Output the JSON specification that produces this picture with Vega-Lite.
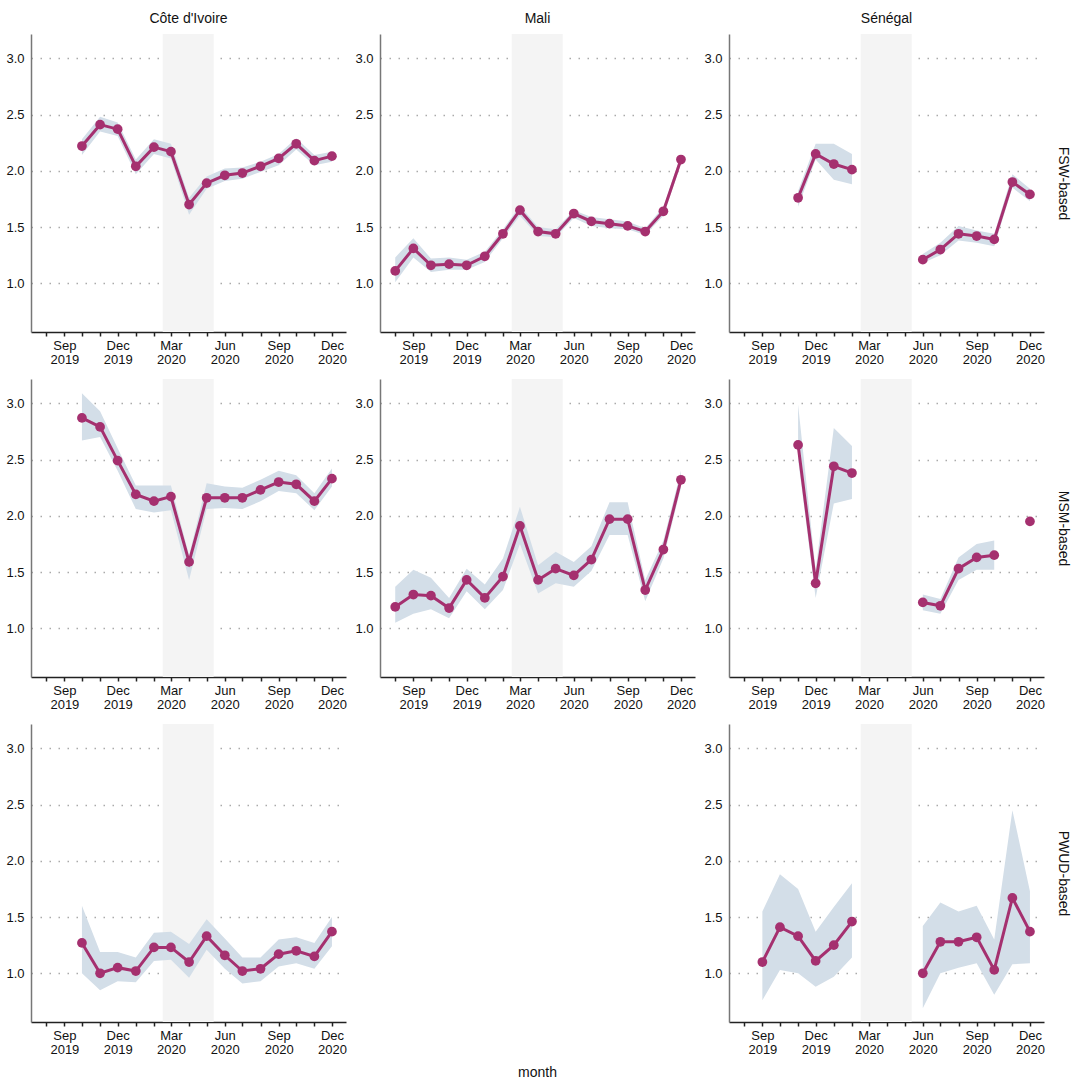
{
  "$schema": "https://vega.github.io/schema/vega-lite/v6.json",
  "padding": {"left": 5, "right": 4, "top": 12, "bottom": 5},
  "datasets": {
    "shade": [{"start": "2020-02-16", "end": "2020-05-13"}],
    "rates": [
      {"country": "Côte d'Ivoire", "group": "FSW-based", "month": "2019-10-01", "est": 2.22, "lo": 2.14, "hi": 2.28},
      {"country": "Côte d'Ivoire", "group": "FSW-based", "month": "2019-11-01", "est": 2.41, "lo": 2.35, "hi": 2.48},
      {"country": "Côte d'Ivoire", "group": "FSW-based", "month": "2019-12-01", "est": 2.37, "lo": 2.31, "hi": 2.43},
      {"country": "Côte d'Ivoire", "group": "FSW-based", "month": "2020-01-01", "est": 2.04, "lo": 1.97, "hi": 2.10},
      {"country": "Côte d'Ivoire", "group": "FSW-based", "month": "2020-02-01", "est": 2.21, "lo": 2.15, "hi": 2.28},
      {"country": "Côte d'Ivoire", "group": "FSW-based", "month": "2020-03-01", "est": 2.17, "lo": 2.11, "hi": 2.24},
      {"country": "Côte d'Ivoire", "group": "FSW-based", "month": "2020-04-01", "est": 1.70, "lo": 1.61, "hi": 1.76},
      {"country": "Côte d'Ivoire", "group": "FSW-based", "month": "2020-05-01", "est": 1.89, "lo": 1.84, "hi": 1.95},
      {"country": "Côte d'Ivoire", "group": "FSW-based", "month": "2020-06-01", "est": 1.96, "lo": 1.91, "hi": 2.02},
      {"country": "Côte d'Ivoire", "group": "FSW-based", "month": "2020-07-01", "est": 1.98, "lo": 1.93, "hi": 2.03},
      {"country": "Côte d'Ivoire", "group": "FSW-based", "month": "2020-08-01", "est": 2.04, "lo": 1.99, "hi": 2.08},
      {"country": "Côte d'Ivoire", "group": "FSW-based", "month": "2020-09-01", "est": 2.11, "lo": 2.05, "hi": 2.15},
      {"country": "Côte d'Ivoire", "group": "FSW-based", "month": "2020-10-01", "est": 2.24, "lo": 2.19, "hi": 2.29},
      {"country": "Côte d'Ivoire", "group": "FSW-based", "month": "2020-11-01", "est": 2.09, "lo": 2.05, "hi": 2.14},
      {"country": "Côte d'Ivoire", "group": "FSW-based", "month": "2020-12-01", "est": 2.13, "lo": 2.08, "hi": 2.17},

      {"country": "Mali", "group": "FSW-based", "month": "2019-08-01", "est": 1.11, "lo": 1.01, "hi": 1.23},
      {"country": "Mali", "group": "FSW-based", "month": "2019-09-01", "est": 1.31, "lo": 1.23, "hi": 1.40},
      {"country": "Mali", "group": "FSW-based", "month": "2019-10-01", "est": 1.16, "lo": 1.10, "hi": 1.22},
      {"country": "Mali", "group": "FSW-based", "month": "2019-11-01", "est": 1.17, "lo": 1.12, "hi": 1.23},
      {"country": "Mali", "group": "FSW-based", "month": "2019-12-01", "est": 1.16, "lo": 1.12, "hi": 1.21},
      {"country": "Mali", "group": "FSW-based", "month": "2020-01-01", "est": 1.24, "lo": 1.19, "hi": 1.28},
      {"country": "Mali", "group": "FSW-based", "month": "2020-02-01", "est": 1.44, "lo": 1.40, "hi": 1.48},
      {"country": "Mali", "group": "FSW-based", "month": "2020-03-01", "est": 1.65, "lo": 1.60, "hi": 1.69},
      {"country": "Mali", "group": "FSW-based", "month": "2020-04-01", "est": 1.46, "lo": 1.42, "hi": 1.50},
      {"country": "Mali", "group": "FSW-based", "month": "2020-05-01", "est": 1.44, "lo": 1.41, "hi": 1.48},
      {"country": "Mali", "group": "FSW-based", "month": "2020-06-01", "est": 1.62, "lo": 1.58, "hi": 1.65},
      {"country": "Mali", "group": "FSW-based", "month": "2020-07-01", "est": 1.55, "lo": 1.51, "hi": 1.59},
      {"country": "Mali", "group": "FSW-based", "month": "2020-08-01", "est": 1.53, "lo": 1.49, "hi": 1.57},
      {"country": "Mali", "group": "FSW-based", "month": "2020-09-01", "est": 1.51, "lo": 1.48, "hi": 1.55},
      {"country": "Mali", "group": "FSW-based", "month": "2020-10-01", "est": 1.46, "lo": 1.43, "hi": 1.49},
      {"country": "Mali", "group": "FSW-based", "month": "2020-11-01", "est": 1.64, "lo": 1.60, "hi": 1.68},
      {"country": "Mali", "group": "FSW-based", "month": "2020-12-01", "est": 2.10, "lo": 2.06, "hi": 2.14},

      {"country": "Sénégal", "group": "FSW-based", "month": "2019-11-01", "est": 1.76, "lo": 1.68, "hi": 1.82},
      {"country": "Sénégal", "group": "FSW-based", "month": "2019-12-01", "est": 2.15, "lo": 2.10, "hi": 2.24},
      {"country": "Sénégal", "group": "FSW-based", "month": "2020-01-01", "est": 2.06, "lo": 1.92, "hi": 2.24},
      {"country": "Sénégal", "group": "FSW-based", "month": "2020-02-01", "est": 2.01, "lo": 1.88, "hi": 2.15},
      {"country": "Sénégal", "group": "FSW-based", "month": "2020-03-01", "est": null, "lo": null, "hi": null},
      {"country": "Sénégal", "group": "FSW-based", "month": "2020-06-01", "est": 1.21, "lo": 1.18, "hi": 1.26},
      {"country": "Sénégal", "group": "FSW-based", "month": "2020-07-01", "est": 1.30, "lo": 1.25, "hi": 1.36},
      {"country": "Sénégal", "group": "FSW-based", "month": "2020-08-01", "est": 1.44, "lo": 1.38, "hi": 1.51},
      {"country": "Sénégal", "group": "FSW-based", "month": "2020-09-01", "est": 1.42, "lo": 1.36, "hi": 1.47},
      {"country": "Sénégal", "group": "FSW-based", "month": "2020-10-01", "est": 1.39, "lo": 1.33, "hi": 1.44},
      {"country": "Sénégal", "group": "FSW-based", "month": "2020-11-01", "est": 1.90, "lo": 1.85, "hi": 1.97},
      {"country": "Sénégal", "group": "FSW-based", "month": "2020-12-01", "est": 1.79, "lo": 1.73, "hi": 1.84},

      {"country": "Côte d'Ivoire", "group": "MSM-based", "month": "2019-10-01", "est": 2.87, "lo": 2.67, "hi": 3.09},
      {"country": "Côte d'Ivoire", "group": "MSM-based", "month": "2019-11-01", "est": 2.79, "lo": 2.70, "hi": 2.93},
      {"country": "Côte d'Ivoire", "group": "MSM-based", "month": "2019-12-01", "est": 2.49, "lo": 2.40, "hi": 2.60},
      {"country": "Côte d'Ivoire", "group": "MSM-based", "month": "2020-01-01", "est": 2.19, "lo": 2.06, "hi": 2.27},
      {"country": "Côte d'Ivoire", "group": "MSM-based", "month": "2020-02-01", "est": 2.13, "lo": 2.03, "hi": 2.27},
      {"country": "Côte d'Ivoire", "group": "MSM-based", "month": "2020-03-01", "est": 2.17, "lo": 2.05, "hi": 2.27},
      {"country": "Côte d'Ivoire", "group": "MSM-based", "month": "2020-04-01", "est": 1.59, "lo": 1.43, "hi": 1.65},
      {"country": "Côte d'Ivoire", "group": "MSM-based", "month": "2020-05-01", "est": 2.16, "lo": 2.06, "hi": 2.29},
      {"country": "Côte d'Ivoire", "group": "MSM-based", "month": "2020-06-01", "est": 2.16, "lo": 2.07, "hi": 2.26},
      {"country": "Côte d'Ivoire", "group": "MSM-based", "month": "2020-07-01", "est": 2.16, "lo": 2.06, "hi": 2.25},
      {"country": "Côte d'Ivoire", "group": "MSM-based", "month": "2020-08-01", "est": 2.23, "lo": 2.13, "hi": 2.32},
      {"country": "Côte d'Ivoire", "group": "MSM-based", "month": "2020-09-01", "est": 2.30, "lo": 2.22, "hi": 2.40},
      {"country": "Côte d'Ivoire", "group": "MSM-based", "month": "2020-10-01", "est": 2.28, "lo": 2.20, "hi": 2.36},
      {"country": "Côte d'Ivoire", "group": "MSM-based", "month": "2020-11-01", "est": 2.13, "lo": 2.05, "hi": 2.20},
      {"country": "Côte d'Ivoire", "group": "MSM-based", "month": "2020-12-01", "est": 2.33, "lo": 2.26, "hi": 2.42},

      {"country": "Mali", "group": "MSM-based", "month": "2019-08-01", "est": 1.19, "lo": 1.05, "hi": 1.37},
      {"country": "Mali", "group": "MSM-based", "month": "2019-09-01", "est": 1.30, "lo": 1.13, "hi": 1.52},
      {"country": "Mali", "group": "MSM-based", "month": "2019-10-01", "est": 1.29, "lo": 1.17, "hi": 1.45},
      {"country": "Mali", "group": "MSM-based", "month": "2019-11-01", "est": 1.18, "lo": 1.09, "hi": 1.27},
      {"country": "Mali", "group": "MSM-based", "month": "2019-12-01", "est": 1.43, "lo": 1.33, "hi": 1.53},
      {"country": "Mali", "group": "MSM-based", "month": "2020-01-01", "est": 1.27, "lo": 1.17, "hi": 1.39},
      {"country": "Mali", "group": "MSM-based", "month": "2020-02-01", "est": 1.46, "lo": 1.34, "hi": 1.62},
      {"country": "Mali", "group": "MSM-based", "month": "2020-03-01", "est": 1.91, "lo": 1.75, "hi": 2.08},
      {"country": "Mali", "group": "MSM-based", "month": "2020-04-01", "est": 1.43, "lo": 1.31, "hi": 1.56},
      {"country": "Mali", "group": "MSM-based", "month": "2020-05-01", "est": 1.53, "lo": 1.40, "hi": 1.68},
      {"country": "Mali", "group": "MSM-based", "month": "2020-06-01", "est": 1.47, "lo": 1.37, "hi": 1.59},
      {"country": "Mali", "group": "MSM-based", "month": "2020-07-01", "est": 1.61, "lo": 1.51, "hi": 1.73},
      {"country": "Mali", "group": "MSM-based", "month": "2020-08-01", "est": 1.97, "lo": 1.83, "hi": 2.12},
      {"country": "Mali", "group": "MSM-based", "month": "2020-09-01", "est": 1.97, "lo": 1.83, "hi": 2.12},
      {"country": "Mali", "group": "MSM-based", "month": "2020-10-01", "est": 1.34, "lo": 1.24, "hi": 1.43},
      {"country": "Mali", "group": "MSM-based", "month": "2020-11-01", "est": 1.70, "lo": 1.62, "hi": 1.78},
      {"country": "Mali", "group": "MSM-based", "month": "2020-12-01", "est": 2.32, "lo": 2.25, "hi": 2.40},

      {"country": "Sénégal", "group": "MSM-based", "month": "2019-11-01", "est": 2.63, "lo": 2.50, "hi": 2.99},
      {"country": "Sénégal", "group": "MSM-based", "month": "2019-12-01", "est": 1.40, "lo": 1.27, "hi": 1.52},
      {"country": "Sénégal", "group": "MSM-based", "month": "2020-01-01", "est": 2.44, "lo": 2.11, "hi": 2.78},
      {"country": "Sénégal", "group": "MSM-based", "month": "2020-02-01", "est": 2.38, "lo": 2.15, "hi": 2.62},
      {"country": "Sénégal", "group": "MSM-based", "month": "2020-03-01", "est": null, "lo": null, "hi": null},
      {"country": "Sénégal", "group": "MSM-based", "month": "2020-06-01", "est": 1.23, "lo": 1.16, "hi": 1.30},
      {"country": "Sénégal", "group": "MSM-based", "month": "2020-07-01", "est": 1.20, "lo": 1.13, "hi": 1.26},
      {"country": "Sénégal", "group": "MSM-based", "month": "2020-08-01", "est": 1.53, "lo": 1.43, "hi": 1.63},
      {"country": "Sénégal", "group": "MSM-based", "month": "2020-09-01", "est": 1.63, "lo": 1.52, "hi": 1.75},
      {"country": "Sénégal", "group": "MSM-based", "month": "2020-10-01", "est": 1.65, "lo": 1.52, "hi": 1.78},
      {"country": "Sénégal", "group": "MSM-based", "month": "2020-11-01", "est": null, "lo": null, "hi": null},
      {"country": "Sénégal", "group": "MSM-based", "month": "2020-12-01", "est": 1.95, "lo": null, "hi": null},

      {"country": "Côte d'Ivoire", "group": "PWUD-based", "month": "2019-10-01", "est": 1.27, "lo": 1.00, "hi": 1.60},
      {"country": "Côte d'Ivoire", "group": "PWUD-based", "month": "2019-11-01", "est": 1.00, "lo": 0.85, "hi": 1.19},
      {"country": "Côte d'Ivoire", "group": "PWUD-based", "month": "2019-12-01", "est": 1.05, "lo": 0.93, "hi": 1.19},
      {"country": "Côte d'Ivoire", "group": "PWUD-based", "month": "2020-01-01", "est": 1.02, "lo": 0.92, "hi": 1.14},
      {"country": "Côte d'Ivoire", "group": "PWUD-based", "month": "2020-02-01", "est": 1.23, "lo": 1.11, "hi": 1.36},
      {"country": "Côte d'Ivoire", "group": "PWUD-based", "month": "2020-03-01", "est": 1.23, "lo": 1.12, "hi": 1.37},
      {"country": "Côte d'Ivoire", "group": "PWUD-based", "month": "2020-04-01", "est": 1.10, "lo": 0.96, "hi": 1.26},
      {"country": "Côte d'Ivoire", "group": "PWUD-based", "month": "2020-05-01", "est": 1.33, "lo": 1.21, "hi": 1.48},
      {"country": "Côte d'Ivoire", "group": "PWUD-based", "month": "2020-06-01", "est": 1.16, "lo": 1.04, "hi": 1.31},
      {"country": "Côte d'Ivoire", "group": "PWUD-based", "month": "2020-07-01", "est": 1.02, "lo": 0.91, "hi": 1.14},
      {"country": "Côte d'Ivoire", "group": "PWUD-based", "month": "2020-08-01", "est": 1.04, "lo": 0.93, "hi": 1.14},
      {"country": "Côte d'Ivoire", "group": "PWUD-based", "month": "2020-09-01", "est": 1.17, "lo": 1.06, "hi": 1.30},
      {"country": "Côte d'Ivoire", "group": "PWUD-based", "month": "2020-10-01", "est": 1.20, "lo": 1.09, "hi": 1.32},
      {"country": "Côte d'Ivoire", "group": "PWUD-based", "month": "2020-11-01", "est": 1.15, "lo": 1.04, "hi": 1.27},
      {"country": "Côte d'Ivoire", "group": "PWUD-based", "month": "2020-12-01", "est": 1.37, "lo": 1.24, "hi": 1.50},

      {"country": "Sénégal", "group": "PWUD-based", "month": "2019-09-01", "est": 1.10, "lo": 0.76, "hi": 1.55},
      {"country": "Sénégal", "group": "PWUD-based", "month": "2019-10-01", "est": 1.41, "lo": 1.03, "hi": 1.88},
      {"country": "Sénégal", "group": "PWUD-based", "month": "2019-11-01", "est": 1.33, "lo": 1.00, "hi": 1.75},
      {"country": "Sénégal", "group": "PWUD-based", "month": "2019-12-01", "est": 1.11, "lo": 0.88, "hi": 1.37},
      {"country": "Sénégal", "group": "PWUD-based", "month": "2020-01-01", "est": 1.25, "lo": 0.97, "hi": 1.59},
      {"country": "Sénégal", "group": "PWUD-based", "month": "2020-02-01", "est": 1.46, "lo": 1.14, "hi": 1.80},
      {"country": "Sénégal", "group": "PWUD-based", "month": "2020-03-01", "est": null, "lo": null, "hi": null},
      {"country": "Sénégal", "group": "PWUD-based", "month": "2020-06-01", "est": 1.00, "lo": 0.69, "hi": 1.42},
      {"country": "Sénégal", "group": "PWUD-based", "month": "2020-07-01", "est": 1.28, "lo": 1.00, "hi": 1.63},
      {"country": "Sénégal", "group": "PWUD-based", "month": "2020-08-01", "est": 1.28, "lo": 1.05, "hi": 1.55},
      {"country": "Sénégal", "group": "PWUD-based", "month": "2020-09-01", "est": 1.32, "lo": 1.09, "hi": 1.60},
      {"country": "Sénégal", "group": "PWUD-based", "month": "2020-10-01", "est": 1.03, "lo": 0.81, "hi": 1.30},
      {"country": "Sénégal", "group": "PWUD-based", "month": "2020-11-01", "est": 1.67, "lo": 1.08, "hi": 2.45},
      {"country": "Sénégal", "group": "PWUD-based", "month": "2020-12-01", "est": 1.37, "lo": 1.09, "hi": 1.73}
    ]
  },
  "data": {"name": "rates"},
  "columns": 3,
  "spacing": {"row": 13, "column": 7},
  "title": {"text": "month", "orient": "bottom", "anchor": "middle", "fontSize": 14, "fontWeight": "normal", "offset": 10},
  "concat": [
    {
      "width": 315, "height": 298,
      "title": "Côte d'Ivoire",
      "transform": [{"filter": {"and": [{"field": "country", "equal": "Côte d'Ivoire"}, {"field": "group", "equal": "FSW-based"}]}}],
      "layer": [
        {"data": {"name": "shade"}, "mark": {"type": "rect", "color": "#f4f4f4"},
         "encoding": {"x": {"field": "start", "type": "temporal", "title": null, "scale": {"type": "utc", "nice": false, "domain": [{"year": 2019, "month": 7, "date": 6, "utc": true}, {"year": 2020, "month": 12, "date": 25, "utc": true}]}, "axis": {"tickCount": {"interval": "month", "step": 1}, "labelOverlap": false, "labelFlush": false, "labelExpr": "utcmonth(datum.value) % 3 == 2 ? [utcFormat(datum.value, '%b'), utcFormat(datum.value, '%Y')] : ''"}}, "x2": {"field": "end"}}},
        {"mark": {"type": "area", "color": "#d3dee8", "invalid": "break-paths-show-domains"},
         "encoding": {"x": {"field": "month", "type": "temporal", "title": null}, "y": {"field": "lo", "type": "quantitative", "title": null, "scale": {"domain": [0.567, 3.216], "nice": false, "zero": false}, "axis": {"values": [1, 1.5, 2, 2.5, 3], "format": ".1f"}}, "y2": {"field": "hi"}}},
        {"mark": {"type": "line", "color": "#a5306f", "strokeWidth": 3, "invalid": "break-paths-show-domains"},
         "encoding": {"x": {"field": "month", "type": "temporal", "title": null}, "y": {"field": "est", "type": "quantitative", "title": null}}},
        {"mark": {"type": "point", "filled": true, "opacity": 1, "color": "#a5306f", "size": 95},
         "encoding": {"x": {"field": "month", "type": "temporal", "title": null}, "y": {"field": "est", "type": "quantitative", "title": null}}}
      ]
    },
    {
      "width": 315, "height": 298,
      "title": "Mali",
      "transform": [{"filter": {"and": [{"field": "country", "equal": "Mali"}, {"field": "group", "equal": "FSW-based"}]}}],
      "layer": [
        {"data": {"name": "shade"}, "mark": {"type": "rect", "color": "#f4f4f4"},
         "encoding": {"x": {"field": "start", "type": "temporal", "title": null, "scale": {"type": "utc", "nice": false, "domain": [{"year": 2019, "month": 7, "date": 6, "utc": true}, {"year": 2020, "month": 12, "date": 25, "utc": true}]}, "axis": {"tickCount": {"interval": "month", "step": 1}, "labelOverlap": false, "labelFlush": false, "labelExpr": "utcmonth(datum.value) % 3 == 2 ? [utcFormat(datum.value, '%b'), utcFormat(datum.value, '%Y')] : ''"}}, "x2": {"field": "end"}}},
        {"mark": {"type": "area", "color": "#d3dee8", "invalid": "break-paths-show-domains"},
         "encoding": {"x": {"field": "month", "type": "temporal", "title": null}, "y": {"field": "lo", "type": "quantitative", "title": null, "scale": {"domain": [0.567, 3.216], "nice": false, "zero": false}, "axis": {"values": [1, 1.5, 2, 2.5, 3], "format": ".1f"}}, "y2": {"field": "hi"}}},
        {"mark": {"type": "line", "color": "#a5306f", "strokeWidth": 3, "invalid": "break-paths-show-domains"},
         "encoding": {"x": {"field": "month", "type": "temporal", "title": null}, "y": {"field": "est", "type": "quantitative", "title": null}}},
        {"mark": {"type": "point", "filled": true, "opacity": 1, "color": "#a5306f", "size": 95},
         "encoding": {"x": {"field": "month", "type": "temporal", "title": null}, "y": {"field": "est", "type": "quantitative", "title": null}}}
      ]
    },
    {
      "width": 315, "height": 298,
      "title": "Sénégal",
      "transform": [{"filter": {"and": [{"field": "country", "equal": "Sénégal"}, {"field": "group", "equal": "FSW-based"}]}}],
      "resolve": {"axis": {"y": "independent"}},
      "layer": [
        {"data": {"name": "shade"}, "mark": {"type": "rect", "color": "#f4f4f4"},
         "encoding": {"x": {"field": "start", "type": "temporal", "title": null, "scale": {"type": "utc", "nice": false, "domain": [{"year": 2019, "month": 7, "date": 6, "utc": true}, {"year": 2020, "month": 12, "date": 25, "utc": true}]}, "axis": {"tickCount": {"interval": "month", "step": 1}, "labelOverlap": false, "labelFlush": false, "labelExpr": "utcmonth(datum.value) % 3 == 2 ? [utcFormat(datum.value, '%b'), utcFormat(datum.value, '%Y')] : ''"}}, "x2": {"field": "end"}}},
        {"mark": {"type": "area", "color": "#d3dee8", "invalid": "break-paths-show-domains"},
         "encoding": {"x": {"field": "month", "type": "temporal", "title": null}, "y": {"field": "lo", "type": "quantitative", "title": null, "scale": {"domain": [0.567, 3.216], "nice": false, "zero": false}, "axis": {"values": [1, 1.5, 2, 2.5, 3], "format": ".1f"}}, "y2": {"field": "hi"}}},
        {"mark": {"type": "line", "color": "#a5306f", "strokeWidth": 3, "invalid": "break-paths-show-domains"},
         "encoding": {"x": {"field": "month", "type": "temporal", "title": null}, "y": {"field": "est", "type": "quantitative", "title": null, "axis": null}}},
        {"mark": {"type": "point", "filled": true, "opacity": 1, "color": "#a5306f", "size": 95},
         "encoding": {"x": {"field": "month", "type": "temporal", "title": null}, "y": {"field": "est", "type": "quantitative", "title": "FSW-based", "axis": {"orient": "right", "labels": false, "ticks": false, "domain": false, "grid": false, "titleAngle": 90, "titlePadding": 11}}}}
      ]
    },
    {
      "width": 315, "height": 298,
      "transform": [{"filter": {"and": [{"field": "country", "equal": "Côte d'Ivoire"}, {"field": "group", "equal": "MSM-based"}]}}],
      "layer": [
        {"data": {"name": "shade"}, "mark": {"type": "rect", "color": "#f4f4f4"},
         "encoding": {"x": {"field": "start", "type": "temporal", "title": null, "scale": {"type": "utc", "nice": false, "domain": [{"year": 2019, "month": 7, "date": 6, "utc": true}, {"year": 2020, "month": 12, "date": 25, "utc": true}]}, "axis": {"tickCount": {"interval": "month", "step": 1}, "labelOverlap": false, "labelFlush": false, "labelExpr": "utcmonth(datum.value) % 3 == 2 ? [utcFormat(datum.value, '%b'), utcFormat(datum.value, '%Y')] : ''"}}, "x2": {"field": "end"}}},
        {"mark": {"type": "area", "color": "#d3dee8", "invalid": "break-paths-show-domains"},
         "encoding": {"x": {"field": "month", "type": "temporal", "title": null}, "y": {"field": "lo", "type": "quantitative", "title": null, "scale": {"domain": [0.567, 3.216], "nice": false, "zero": false}, "axis": {"values": [1, 1.5, 2, 2.5, 3], "format": ".1f"}}, "y2": {"field": "hi"}}},
        {"mark": {"type": "line", "color": "#a5306f", "strokeWidth": 3, "invalid": "break-paths-show-domains"},
         "encoding": {"x": {"field": "month", "type": "temporal", "title": null}, "y": {"field": "est", "type": "quantitative", "title": null}}},
        {"mark": {"type": "point", "filled": true, "opacity": 1, "color": "#a5306f", "size": 95},
         "encoding": {"x": {"field": "month", "type": "temporal", "title": null}, "y": {"field": "est", "type": "quantitative", "title": null}}}
      ]
    },
    {
      "width": 315, "height": 298,
      "transform": [{"filter": {"and": [{"field": "country", "equal": "Mali"}, {"field": "group", "equal": "MSM-based"}]}}],
      "layer": [
        {"data": {"name": "shade"}, "mark": {"type": "rect", "color": "#f4f4f4"},
         "encoding": {"x": {"field": "start", "type": "temporal", "title": null, "scale": {"type": "utc", "nice": false, "domain": [{"year": 2019, "month": 7, "date": 6, "utc": true}, {"year": 2020, "month": 12, "date": 25, "utc": true}]}, "axis": {"tickCount": {"interval": "month", "step": 1}, "labelOverlap": false, "labelFlush": false, "labelExpr": "utcmonth(datum.value) % 3 == 2 ? [utcFormat(datum.value, '%b'), utcFormat(datum.value, '%Y')] : ''"}}, "x2": {"field": "end"}}},
        {"mark": {"type": "area", "color": "#d3dee8", "invalid": "break-paths-show-domains"},
         "encoding": {"x": {"field": "month", "type": "temporal", "title": null}, "y": {"field": "lo", "type": "quantitative", "title": null, "scale": {"domain": [0.567, 3.216], "nice": false, "zero": false}, "axis": {"values": [1, 1.5, 2, 2.5, 3], "format": ".1f"}}, "y2": {"field": "hi"}}},
        {"mark": {"type": "line", "color": "#a5306f", "strokeWidth": 3, "invalid": "break-paths-show-domains"},
         "encoding": {"x": {"field": "month", "type": "temporal", "title": null}, "y": {"field": "est", "type": "quantitative", "title": null}}},
        {"mark": {"type": "point", "filled": true, "opacity": 1, "color": "#a5306f", "size": 95},
         "encoding": {"x": {"field": "month", "type": "temporal", "title": null}, "y": {"field": "est", "type": "quantitative", "title": null}}}
      ]
    },
    {
      "width": 315, "height": 298,
      "transform": [{"filter": {"and": [{"field": "country", "equal": "Sénégal"}, {"field": "group", "equal": "MSM-based"}]}}],
      "resolve": {"axis": {"y": "independent"}},
      "layer": [
        {"data": {"name": "shade"}, "mark": {"type": "rect", "color": "#f4f4f4"},
         "encoding": {"x": {"field": "start", "type": "temporal", "title": null, "scale": {"type": "utc", "nice": false, "domain": [{"year": 2019, "month": 7, "date": 6, "utc": true}, {"year": 2020, "month": 12, "date": 25, "utc": true}]}, "axis": {"tickCount": {"interval": "month", "step": 1}, "labelOverlap": false, "labelFlush": false, "labelExpr": "utcmonth(datum.value) % 3 == 2 ? [utcFormat(datum.value, '%b'), utcFormat(datum.value, '%Y')] : ''"}}, "x2": {"field": "end"}}},
        {"mark": {"type": "area", "color": "#d3dee8", "invalid": "break-paths-show-domains"},
         "encoding": {"x": {"field": "month", "type": "temporal", "title": null}, "y": {"field": "lo", "type": "quantitative", "title": null, "scale": {"domain": [0.567, 3.216], "nice": false, "zero": false}, "axis": {"values": [1, 1.5, 2, 2.5, 3], "format": ".1f"}}, "y2": {"field": "hi"}}},
        {"mark": {"type": "line", "color": "#a5306f", "strokeWidth": 3, "invalid": "break-paths-show-domains"},
         "encoding": {"x": {"field": "month", "type": "temporal", "title": null}, "y": {"field": "est", "type": "quantitative", "title": null, "axis": null}}},
        {"mark": {"type": "point", "filled": true, "opacity": 1, "color": "#a5306f", "size": 95},
         "encoding": {"x": {"field": "month", "type": "temporal", "title": null}, "y": {"field": "est", "type": "quantitative", "title": "MSM-based", "axis": {"orient": "right", "labels": false, "ticks": false, "domain": false, "grid": false, "titleAngle": 90, "titlePadding": 11}}}}
      ]
    },
    {
      "width": 315, "height": 298,
      "transform": [{"filter": {"and": [{"field": "country", "equal": "Côte d'Ivoire"}, {"field": "group", "equal": "PWUD-based"}]}}],
      "layer": [
        {"data": {"name": "shade"}, "mark": {"type": "rect", "color": "#f4f4f4"},
         "encoding": {"x": {"field": "start", "type": "temporal", "title": null, "scale": {"type": "utc", "nice": false, "domain": [{"year": 2019, "month": 7, "date": 6, "utc": true}, {"year": 2020, "month": 12, "date": 25, "utc": true}]}, "axis": {"tickCount": {"interval": "month", "step": 1}, "labelOverlap": false, "labelFlush": false, "labelExpr": "utcmonth(datum.value) % 3 == 2 ? [utcFormat(datum.value, '%b'), utcFormat(datum.value, '%Y')] : ''"}}, "x2": {"field": "end"}}},
        {"mark": {"type": "area", "color": "#d3dee8", "invalid": "break-paths-show-domains"},
         "encoding": {"x": {"field": "month", "type": "temporal", "title": null}, "y": {"field": "lo", "type": "quantitative", "title": null, "scale": {"domain": [0.567, 3.216], "nice": false, "zero": false}, "axis": {"values": [1, 1.5, 2, 2.5, 3], "format": ".1f"}}, "y2": {"field": "hi"}}},
        {"mark": {"type": "line", "color": "#a5306f", "strokeWidth": 3, "invalid": "break-paths-show-domains"},
         "encoding": {"x": {"field": "month", "type": "temporal", "title": null}, "y": {"field": "est", "type": "quantitative", "title": null}}},
        {"mark": {"type": "point", "filled": true, "opacity": 1, "color": "#a5306f", "size": 95},
         "encoding": {"x": {"field": "month", "type": "temporal", "title": null}, "y": {"field": "est", "type": "quantitative", "title": null}}}
      ]
    },
    {
      "width": 315, "height": 298,
      "data": {"values": []},
      "mark": "point",
      "encoding": {}
    },
    {
      "width": 315, "height": 298,
      "transform": [{"filter": {"and": [{"field": "country", "equal": "Sénégal"}, {"field": "group", "equal": "PWUD-based"}]}}],
      "resolve": {"axis": {"y": "independent"}},
      "layer": [
        {"data": {"name": "shade"}, "mark": {"type": "rect", "color": "#f4f4f4"},
         "encoding": {"x": {"field": "start", "type": "temporal", "title": null, "scale": {"type": "utc", "nice": false, "domain": [{"year": 2019, "month": 7, "date": 6, "utc": true}, {"year": 2020, "month": 12, "date": 25, "utc": true}]}, "axis": {"tickCount": {"interval": "month", "step": 1}, "labelOverlap": false, "labelFlush": false, "labelExpr": "utcmonth(datum.value) % 3 == 2 ? [utcFormat(datum.value, '%b'), utcFormat(datum.value, '%Y')] : ''"}}, "x2": {"field": "end"}}},
        {"mark": {"type": "area", "color": "#d3dee8", "invalid": "break-paths-show-domains"},
         "encoding": {"x": {"field": "month", "type": "temporal", "title": null}, "y": {"field": "lo", "type": "quantitative", "title": null, "scale": {"domain": [0.567, 3.216], "nice": false, "zero": false}, "axis": {"values": [1, 1.5, 2, 2.5, 3], "format": ".1f"}}, "y2": {"field": "hi"}}},
        {"mark": {"type": "line", "color": "#a5306f", "strokeWidth": 3, "invalid": "break-paths-show-domains"},
         "encoding": {"x": {"field": "month", "type": "temporal", "title": null}, "y": {"field": "est", "type": "quantitative", "title": null, "axis": null}}},
        {"mark": {"type": "point", "filled": true, "opacity": 1, "color": "#a5306f", "size": 95},
         "encoding": {"x": {"field": "month", "type": "temporal", "title": null}, "y": {"field": "est", "type": "quantitative", "title": "PWUD-based", "axis": {"orient": "right", "labels": false, "ticks": false, "domain": false, "grid": false, "titleAngle": 90, "titlePadding": 11}}}}
      ]
    }
  ],
  "config": {
    "font": "Liberation Sans",
    "view": {"stroke": null},
    "axis": {"labelFontSize": 13, "labelColor": "#111", "titleFontSize": 14, "titleFontWeight": "normal", "titleColor": "#111"},
    "axisX": {"grid": false, "domainColor": "#222", "domainWidth": 1.5, "tickColor": "#222", "tickWidth": 1.5, "tickSize": 4, "labelPadding": 3, "labelLineHeight": 14},
    "axisY": {"grid": true, "ticks": false, "domainColor": "#777", "domainWidth": 1.5, "gridColor": "#aaa", "gridDash": [1.5, 7.5], "gridWidth": 1.5, "labelPadding": 7},
    "title": {"fontSize": 14, "fontWeight": "normal", "color": "#111", "offset": 8}
  }
}
